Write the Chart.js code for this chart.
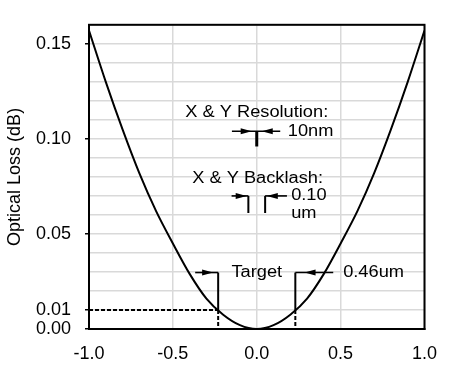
<!DOCTYPE html>
<html>
<head>
<meta charset="utf-8">
<script src="https://cdn.jsdelivr.net/npm/chart.js@4"></script>
<style>
  html, body { margin: 0; padding: 0; background: #fff; }
  #wrap { width: 451px; height: 366px; }
</style>
</head>
<body>
<div id="wrap"><canvas id="lossChart" width="451" height="366"></canvas></div>
<script>
// offset (um) and optical loss (dB)
const offsets = [-1.0, -0.9, -0.8, -0.7, -0.6, -0.5, -0.4, -0.3, -0.2, -0.1, 0.0,
                 0.1, 0.2, 0.3, 0.4, 0.5, 0.6, 0.7, 0.8, 0.9, 1.0];
const losses = [0.157, 0.130, 0.105, 0.082, 0.062, 0.045, 0.029, 0.016, 0.0075, 0.002, 0.0,
                0.002, 0.0075, 0.016, 0.029, 0.045, 0.062, 0.082, 0.105, 0.130, 0.157];
const yTickLabels = [0.00, 0.01, 0.05, 0.10, 0.15];
const xTickStep = 0.5;

// annotation values
const targetHalf = 0.23;      // +/- half of 0.46um
const targetLoss = 0.01;
const backlashHalf = 0.05;    // +/- half of 0.10um

const FONT = '"Liberation Sans", Arial, sans-serif';

function arrowHead(ctx, tipX, y, dir) {
    // dir = +1 points right, -1 points left
    ctx.beginPath();
    ctx.moveTo(tipX, y);
    ctx.lineTo(tipX - dir * 11, y - 3);
    ctx.lineTo(tipX - dir * 11, y + 3);
    ctx.closePath();
    ctx.fill();
}

function hline(ctx, x1, x2, y, w) {
    ctx.lineWidth = w || 1.6;
    ctx.beginPath();
    ctx.moveTo(x1, y);
    ctx.lineTo(x2, y);
    ctx.stroke();
}

function vline(ctx, x, y1, y2, w) {
    ctx.lineWidth = w || 2;
    ctx.beginPath();
    ctx.moveTo(x, y1);
    ctx.lineTo(x, y2);
    ctx.stroke();
}

// text drawn a little wider than tall, like the source picture
function label(ctx, text, x, y, align) {
    ctx.save();
    ctx.translate(x, y);
    ctx.scale(1.14, 1);
    ctx.textAlign = align;
    ctx.textBaseline = 'middle';
    ctx.fillText(text, 0, 0);
    ctx.restore();
}

const notes = {
    id: 'notes',
    afterDatasetsDraw(chart) {
        const ctx = chart.ctx;
        const xs = chart.scales.x, ys = chart.scales.y;
        const X = v => xs.getPixelForValue(v);
        const Y = v => ys.getPixelForValue(v);
        const a = chart.chartArea;

        ctx.save();
        ctx.strokeStyle = '#000';
        ctx.fillStyle = '#000';

        // target dotted guides
        ctx.setLineDash([4, 2]);
        hline(ctx, X(-1), X(-targetHalf), Y(targetLoss), 2);
        vline(ctx, X(-targetHalf), Y(targetLoss), Y(0), 2);
        vline(ctx, X(targetHalf), Y(targetLoss), Y(0), 2);
        ctx.setLineDash([]);

        // target brackets
        const ty = Y(0.0297);
        vline(ctx, X(-targetHalf), ty, Y(targetLoss));
        vline(ctx, X(targetHalf), ty, Y(targetLoss));
        hline(ctx, X(-0.367), X(-targetHalf), ty);
        arrowHead(ctx, X(-0.26), ty, 1);
        hline(ctx, X(targetHalf), X(0.456), ty);
        arrowHead(ctx, X(0.285), ty, -1);

        // resolution marker
        const ry = Y(0.104);
        hline(ctx, X(-0.148), X(0.14), ry);
        arrowHead(ctx, X(-0.03), ry, 1);
        arrowHead(ctx, X(0.03), ry, -1);
        vline(ctx, X(0), ry, Y(0.096), 3);

        // backlash brackets
        const by = Y(0.070);
        vline(ctx, X(-backlashHalf), by, Y(0.061));
        vline(ctx, X(backlashHalf), by, Y(0.061));
        hline(ctx, X(-0.15), X(-backlashHalf), by);
        arrowHead(ctx, X(-0.06), by, 1);
        hline(ctx, X(backlashHalf), X(0.18), by);
        arrowHead(ctx, X(0.06), by, -1);

        // texts
        ctx.font = '16px ' + FONT;
        label(ctx, 'X & Y Resolution:', X(0), Y(0.114), 'center');
        label(ctx, 'X & Y Backlash:', X(0.005), Y(0.0792), 'center');
        label(ctx, 'Target', X(0), ty, 'center');
        label(ctx, '10nm', X(0.185), ry, 'left');
        label(ctx, '0.10', X(0.205), by, 'left');
        label(ctx, 'um', X(0.205), Y(0.0605), 'left');
        label(ctx, '0.46um', X(0.515), ty, 'left');

        // frame
        ctx.lineWidth = 2;
        ctx.strokeRect(a.left, a.top, a.right - a.left, a.bottom - a.top);
        ctx.restore();
    }
};

const isLabelled = v => yTickLabels.some(t => Math.abs(t - v) < 1e-6);

new Chart(document.getElementById('lossChart').getContext('2d'), {
    type: 'line',
    data: {
        datasets: [{
            data: offsets.map((x, i) => ({ x: x, y: losses[i] })),
            borderColor: '#000',
            borderWidth: 2,
            pointRadius: 0,
            cubicInterpolationMode: 'monotone',
            fill: false
        }]
    },
    options: {
        responsive: false,
        animation: false,
        layout: { padding: { top: 11, right: 25, left: 0, bottom: 0 } },
        plugins: {
            legend: { display: false },
            tooltip: { enabled: false }
        },
        scales: {
            x: {
                type: 'linear',
                min: -1,
                max: 1,
                afterFit: s => { s.height = 37; },
                ticks: {
                    stepSize: xTickStep,
                    padding: 14,
                    color: '#000',
                    font: { family: FONT, size: 18 },
                    callback: v => v.toFixed(1)
                },
                grid: { color: '#d9d9d9', lineWidth: 1.5, drawTicks: false },
                border: { color: '#000', width: 2 }
            },
            y: {
                min: 0,
                max: 0.16,
                afterFit: s => { s.width = 89; },
                ticks: {
                    stepSize: 0.01,
                    autoSkip: false,
                    padding: 14,
                    color: '#000',
                    font: { family: FONT, size: 18 },
                    callback: v => isLabelled(v) ? v.toFixed(2) : ''
                },
                grid: {
                    color: '#d9d9d9',
                    lineWidth: 1.5,
                    tickLength: 4,
                    tickColor: c => (c.tick && isLabelled(c.tick.value)) ? '#000' : 'rgba(0,0,0,0)'
                },
                border: { color: '#000', width: 2 },
                title: {
                    display: true,
                    text: 'Optical Loss (dB)',
                    color: '#000',
                    padding: { top: 4, bottom: 0 },
                    font: { family: FONT, size: 18 }
                }
            }
        }
    },
    plugins: [notes]
});
</script>
</body>
</html>
